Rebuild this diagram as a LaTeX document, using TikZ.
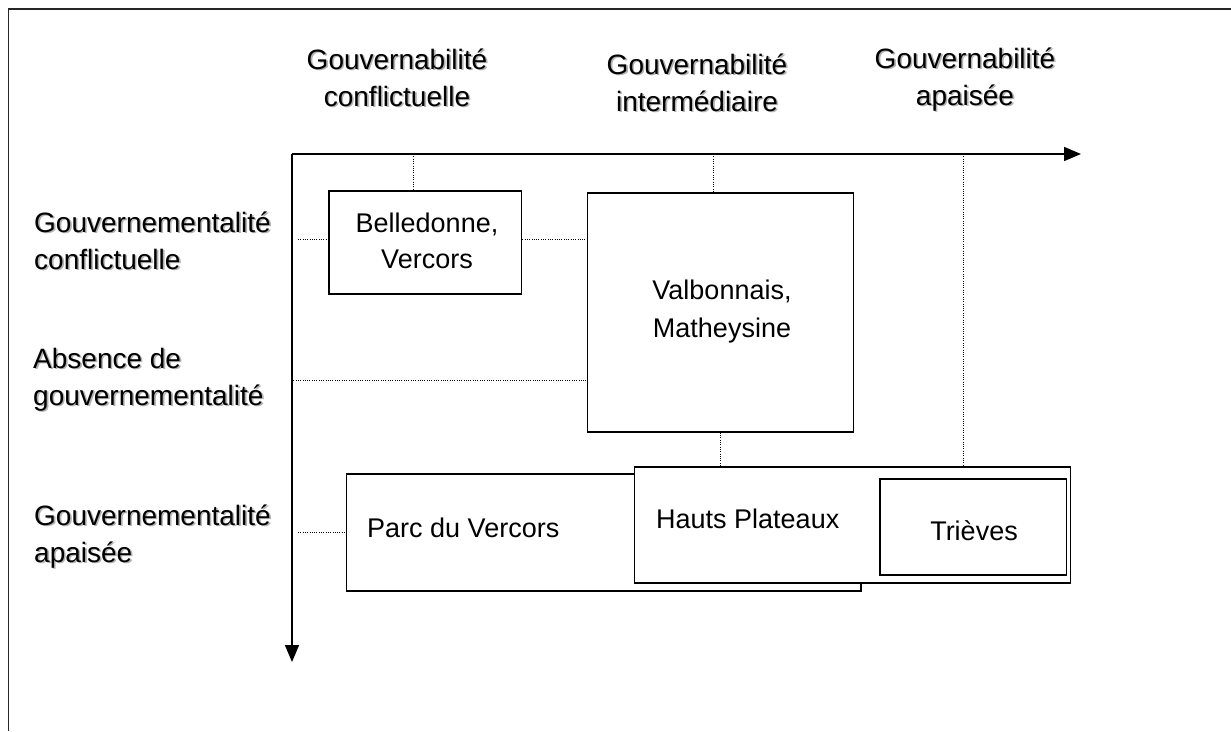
\documentclass[tikz,border=0pt]{standalone}
\usepackage{fontspec}
\setmainfont{Liberation Sans}
\usetikzlibrary{arrows.meta}
\newcommand\ShadowTxt[1]{\leavevmode\rlap{\kern1.6pt\raisebox{-1.6pt}{\textcolor{black!30}{#1}}}#1}
\begin{document}
\begin{tikzpicture}[x=1pt,y=-1pt,
  box/.style={draw, line width=1.7pt, fill=white, inner sep=0pt},
  lbl/.style={font=\fontsize{28}{37}\selectfont, inner sep=0pt},
  blbl/.style={font=\fontsize{27}{36}\selectfont, inner sep=0pt},
  dots/.style={line width=1pt, dash pattern=on 1pt off 1.3pt},
  axisline/.style={line width=1.7pt, -{Triangle[length=17pt,width=14pt]}}]
\useasboundingbox (0,0) rectangle (1231,731);
\fill[white] (0,0) rectangle (1231,731);
% outer frame (open at right and bottom)
\draw[line width=1.8pt, black!85] (8.5,731) -- (8.5,9) -- (1231,9);

% axes
\coordinate (o) at (292,154);
\coordinate (xe) at (1081,154);
\coordinate (ye) at (292,662);
\draw[axisline] (o) -- (xe);
\draw[axisline] (o) -- (ye);

% headers (anchor = baseline of last line)
\node[lbl, align=center, anchor=base] (hl) at (397,106) {\ShadowTxt{Gouvernabilité}\\\ShadowTxt{conflictuelle}};
\node[lbl, align=center, anchor=base] (hm) at (697,111) {\ShadowTxt{Gouvernabilité}\\\ShadowTxt{intermédiaire}};
\node[lbl, align=center, anchor=base] (hr) at (965,105) {\ShadowTxt{Gouvernabilité}\\\ShadowTxt{apaisée}};

% row labels
\node[lbl, align=left, anchor=base west] (gc) at (34,269) {\ShadowTxt{Gouvernementalité}\\\ShadowTxt{conflictuelle}};
\node[lbl, align=left, anchor=base west] (ag) at (33,405) {\ShadowTxt{Absence de}\\\ShadowTxt{gouvernementalité}};
\node[lbl, align=left, anchor=base west] (ga) at (34,562) {\ShadowTxt{Gouvernementalité}\\\ShadowTxt{apaisée}};

% box shapes
\node[box, minimum width=192.5pt, minimum height=103pt] (bel) at (425.25,242.5) {};
\node[box, minimum width=266pt, minimum height=239pt] (val) at (720.5,312.5) {};

% dotted guides
\coordinate (t1) at (413,154);
\coordinate (t2) at (713,154);
\coordinate (t3) at (720,433);
\coordinate (t4) at (963,154);
\coordinate (h1) at (298,239);
\coordinate (h3) at (291,380);
\coordinate (h4) at (298,532);

\node[box, minimum width=514.5pt, minimum height=117pt] (parc) at (603.75,532.5) {};
\node[box, minimum width=436pt, minimum height=116.3pt] (hauts) at (852.5,524.85) {};
\node[box, minimum width=186.5pt, minimum height=96pt] (trieves) at (973.25,527) {};

\draw[dots] (t1) -- (t1 |- bel.north);
\draw[dots] (t2) -- (t2 |- val.north);
\draw[dots] (t3 |- val.south) -- (t3 |- hauts.north);
\draw[dots] (t4) -- (t4 |- hauts.north);
\draw[dots] (h1) -- (h1 -| bel.west);
\draw[dots] (h1 -| bel.east) -- (h1 -| val.west);
\draw[dots] (h3) -- (h3 -| val.west);
\draw[dots] (h4) -- (h4 -| parc.west);

% box texts
\node[blbl, align=center, anchor=base] (belt) at (427,268) {Belledonne,\\Vercors};
\node[blbl, align=center, anchor=base, font=\fontsize{27}{38}\selectfont] (valt) at (722,337) {Valbonnais,\\Matheysine};
\node[blbl, anchor=base west] (parct) at (367,537) {Parc du Vercors};
\node[blbl, anchor=base west] (hautst) at (656,528) {Hauts Plateaux};
\node[blbl, anchor=base] (triet) at (974,540) {Trièves};
\end{tikzpicture}
\end{document}
